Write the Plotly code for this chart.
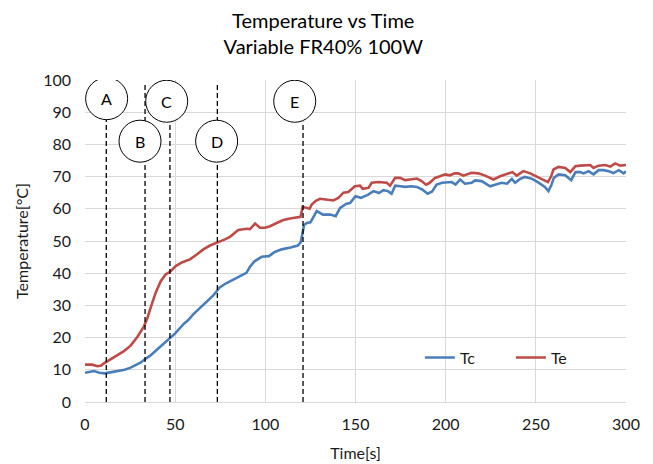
import plotly.graph_objects as go

# ---- data ----
t_tc = [0, 3, 5, 8, 11, 14, 18, 22, 25, 28, 31, 33, 36, 40, 44, 47.5, 50, 55, 57, 60,
        64, 68, 71, 73, 74.5, 78, 82, 86, 89.5, 91.5, 94, 98, 102, 105, 109, 114, 118,
        119.6, 120.5, 121.5, 123, 125, 128.5, 132, 136, 139, 141.5, 145, 147, 150, 153,
        157, 160, 163, 165.5, 168, 170, 172, 175, 177.5, 181, 184, 187, 190, 192.5, 195,
        198, 200.6, 203.4, 205.5, 208, 210.7, 214.4, 216.3, 220, 224.6, 228.3, 231, 234,
        236.7, 238.5, 241.3, 244, 248, 251.5, 255, 257, 258.5, 260, 262.6, 266.3, 269.6,
        272, 274.6, 276.5, 279.3, 282, 284.8, 287.6, 290.4, 293, 296, 298.7, 300]
tc = [9.1, 9.3, 9.6, 9.1, 8.9, 9.2, 9.6, 10.0, 10.6, 11.5, 12.3, 13.2, 14.3, 16.3, 18.3,
      20.2, 21.3, 24.4, 25.3, 27.2, 29.2, 31.3, 33.0, 34.4, 35.5, 36.8, 38.0, 39.3, 40.1,
      42.0, 43.7, 45.1, 45.3, 46.5, 47.4, 48.0, 48.6, 49.6, 52.5, 55.0, 55.6, 55.8, 59.3,
      58.2, 58.2, 57.7, 60.3, 61.6, 61.8, 63.9, 63.4, 64.4, 65.5, 64.9, 65.8, 65.5, 64.7,
      67.2, 67.0, 66.8, 67.0, 66.8, 66.0, 64.7, 65.4, 67.5, 68.1, 68.1, 68.3, 67.5, 69.1,
      67.8, 68.1, 68.8, 68.6, 67.0, 67.6, 68.1, 67.8, 69.3, 68.1, 69.3, 69.9, 69.3, 68.1,
      66.8, 65.5, 67.2, 69.6, 70.7, 70.4, 68.9, 71.4, 71.4, 71.0, 71.7, 70.7, 72.0, 72.0,
      71.7, 71.1, 72.0, 71.0, 71.7]

t_te = [0, 4, 7, 9, 10.5, 14.2, 17.9, 21.6, 25.3, 29, 32.7, 34.6, 36.4, 39.2, 42, 44.7,
        47.5, 50.3, 54, 58.2, 62, 65.6, 69.3, 74, 77.6, 80.4, 85, 89.7, 91.5, 94.3, 97,
        99.8, 102.6, 106.3, 110, 113.7, 117.4, 119.5, 120.7, 123, 124.5, 125.7, 128, 130.3,
        134, 137.7, 140.5, 143.3, 146, 149.7, 152.5, 154, 157.2, 159, 162.7, 165.5, 167.3,
        169.2, 172, 174.7, 177.5, 180.3, 184, 186.7, 189.1, 191, 194.1, 196.9, 199.7,
        202.4, 205, 207, 209.8, 214.4, 218.1, 221.9, 226.5, 230.2, 233.9, 237, 239.4,
        243.1, 246.9, 250.6, 253.3, 256.7, 258.5, 259.8, 262.6, 266.3, 269.1, 271.9,
        274.6, 277.4, 280.2, 282, 284.8, 288.5, 291.3, 294, 296.8, 300]
te = [11.6, 11.6, 11.1, 11.3, 12.0, 13.2, 14.4, 15.8, 17.5, 20.2, 23.5, 26.1, 29.3, 33.9,
      37.5, 39.6, 40.6, 42.2, 43.4, 44.3, 45.8, 47.4, 48.6, 49.6, 50.5, 51.3, 53.4, 53.8,
      53.7, 55.4, 54.1, 54.1, 54.6, 55.6, 56.5, 57.0, 57.2, 57.5, 60.6, 60.3, 60.0, 61.3,
      62.5, 63.1, 62.9, 62.6, 63.4, 65.0, 65.2, 67.0, 67.2, 66.2, 66.5, 68.1, 68.3, 68.3,
      68.1, 67.2, 69.6, 69.6, 68.9, 69.1, 69.4, 68.6, 67.5, 68.0, 69.6, 70.1, 70.7, 70.4,
      71.0, 71.0, 70.3, 71.2, 71.0, 70.3, 69.1, 70.1, 70.7, 71.4, 70.3, 71.7, 71.0, 69.9,
      69.3, 68.3, 70.1, 72.2, 73.0, 72.7, 71.4, 73.2, 73.4, 73.6, 73.6, 72.7, 73.4, 73.6,
      73.1, 74.1, 73.4, 73.6]

event_labels = ["A", "B", "C", "D", "E"]
event_t = [11.8, 33.3, 47.1, 73.4, 120.9]      # dashed marker lines (s)
event_top = [88, 99, 87, 99, 87]                # top of each dashed line (°C)
circle_t = [12.0, 30.5, 45.3, 73.0, 116.3]      # label circle centres
circle_v = [94.2, 81.0, 93.4, 81.0, 93.4]

x_ticks = [0, 50, 100, 150, 200, 250, 300]
y_ticks = [0, 10, 20, 30, 40, 50, 60, 70, 80, 90, 100]

FONT = "Lato"
BLUE = "#4A7EBB"
RED = "#BE4B48"

fig = go.Figure()
fig.add_trace(go.Scatter(x=t_tc, y=tc, mode="lines", name="Tc",
                         line=dict(color=BLUE, width=2.6)))
fig.add_trace(go.Scatter(x=t_te, y=te, mode="lines", name="Te",
                         line=dict(color=RED, width=2.6)))

shapes = []
for t, top in zip(event_t, event_top):
    shapes.append(dict(type="line", xref="x", yref="y", x0=t, x1=t, y0=0, y1=top,
                       line=dict(color="black", width=1.3, dash="5px,3px"), layer="above"))
R = 21
for cx, cy in zip(circle_t, circle_v):
    shapes.append(dict(type="circle", xref="x", yref="y", xsizemode="pixel",
                       ysizemode="pixel", xanchor=cx, yanchor=cy,
                       x0=-R, x1=R, y0=-R, y1=R, fillcolor="white",
                       line=dict(color="black", width=1), layer="above"))
annotations = []
for lab, cx, cy in zip(event_labels, circle_t, circle_v):
    annotations.append(dict(x=cx, y=cy, xref="x", yref="y", text=lab, showarrow=False,
                            font=dict(family=FONT, size=16, color="black")))

fig.update_layout(
    width=653, height=464,
    margin=dict(l=85, r=27, t=80, b=62),
    paper_bgcolor="white", plot_bgcolor="white",
    font=dict(family=FONT, size=16, color="#1a1a1a"),
    title=dict(text="Temperature vs Time<br>Variable FR40% 100W", x=0.495, xanchor="center",
               yref="container", y=1 - 27.5 / 464, yanchor="middle",
               font=dict(family=FONT, size=20, color="black")),
    xaxis=dict(range=[0, 300], tickvals=x_ticks, showgrid=True, gridcolor="#d9d9d9",
               gridwidth=1, zeroline=False, showline=True, linecolor="#d9d9d9",
               ticks="", ticklabelstandoff=8, automargin=False,
               title=dict(text="Time[s]", standoff=15, font=dict(size=16))),
    yaxis=dict(range=[0, 100], tickvals=y_ticks, showgrid=True, gridcolor="#d9d9d9",
               gridwidth=1, zeroline=False, showline=False, ticks="",
               ticklabelstandoff=13, automargin=False,
               title=dict(text="Temperature[°C]", standoff=10, font=dict(size=16))),
    legend=dict(orientation="h", x=0.619, y=0.138, xanchor="left", yanchor="middle",
                bgcolor="rgba(0,0,0,0)", font=dict(size=16),
                entrywidth=46, entrywidthmode="pixels"),
    shapes=shapes, annotations=annotations,
)

fig.write_html("out.html", config={"displayModeBar": False},
               post_script="document.body.style.margin='0';document.body.style.padding='0';")
